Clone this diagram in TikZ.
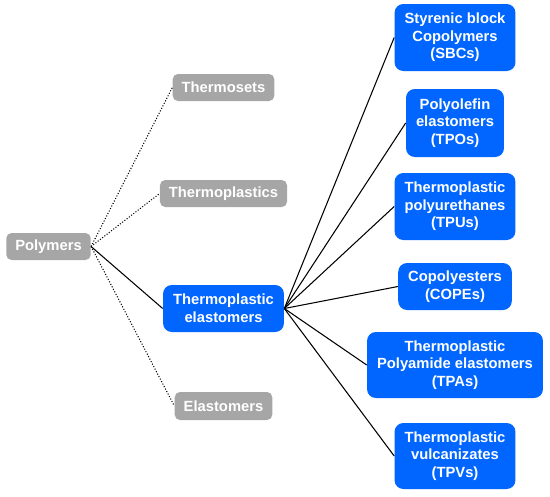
\documentclass[tikz,border=0pt]{standalone}
\usepackage{fontspec}
\setmainfont{Liberation Sans}
\usepackage{tikz}
\usetikzlibrary{shapes,arrows,positioning}
\definecolor{polymergray}{RGB}{166,166,166}
\definecolor{tpeblue}{RGB}{0,102,255}

\tikzset{
  graybox/.style={fill=polymergray,text=white,rounded corners=3pt,inner xsep=0.18cm,inner ysep=0.1cm,minimum height=0.54cm,font=\fontsize{8.4}{10}\selectfont\bfseries},
  bluebox/.style={fill=tpeblue,text=white,rounded corners=5pt,align=center,inner xsep=0.2cm,inner ysep=0.1cm,font=\fontsize{8.4}{10}\selectfont\bfseries},
  dotlink/.style={black,densely dotted,line width=0.6pt},
  solidlink/.style={black,line width=0.6pt}
}

\begin{document}
\begin{tikzpicture}
\useasboundingbox (0,0) rectangle (11,-9.92);
% polymer families
\node[graybox] (polymers) at (0.97,-4.93) {Polymers};
\node[graybox] (thermosets) at (4.47,-1.75) {Thermosets};
\node[graybox] (thermoplastics) at (4.47,-3.87) {Thermoplastics};
\node[bluebox,minimum height=0.94cm] (tpe) at (4.47,-6.17) {Thermoplastic\\elastomers};
\node[graybox,minimum height=0.56cm] (elastomers) at (4.47,-8.12) {Elastomers};
% TPE classes
\node[bluebox,minimum height=1.34cm] (sbc) at (9.10,-0.75) {Styrenic block\\Copolymers\\(SBCs)};
\node[bluebox,minimum height=1.36cm] (tpo) at (9.10,-2.46) {Polyolefin\\elastomers\\(TPOs)};
\node[bluebox,minimum height=1.34cm] (tpu) at (9.10,-4.13) {Thermoplastic\\polyurethanes\\(TPUs)};
\node[bluebox,minimum height=0.94cm] (cope) at (9.10,-5.73) {Copolyesters\\(COPEs)};
\node[bluebox,minimum height=1.32cm] (tpa) at (9.10,-7.30) {Thermoplastic\\Polyamide elastomers\\(TPAs)};
\node[bluebox,minimum height=1.32cm] (tpv) at (9.10,-9.12) {Thermoplastic\\vulcanizates\\(TPVs)};
% links
\draw[dotlink] (polymers.east) -- (thermosets.west);
\draw[dotlink] (polymers.east) -- (thermoplastics.west);
\draw[dotlink] (polymers.east) -- (elastomers.west);
\draw[solidlink] (polymers.east) -- (tpe.west);
\foreach \cls in {sbc,tpo,tpu,cope,tpa,tpv}
  \draw[solidlink] (tpe.east) -- (\cls.west);
\end{tikzpicture}
\end{document}
